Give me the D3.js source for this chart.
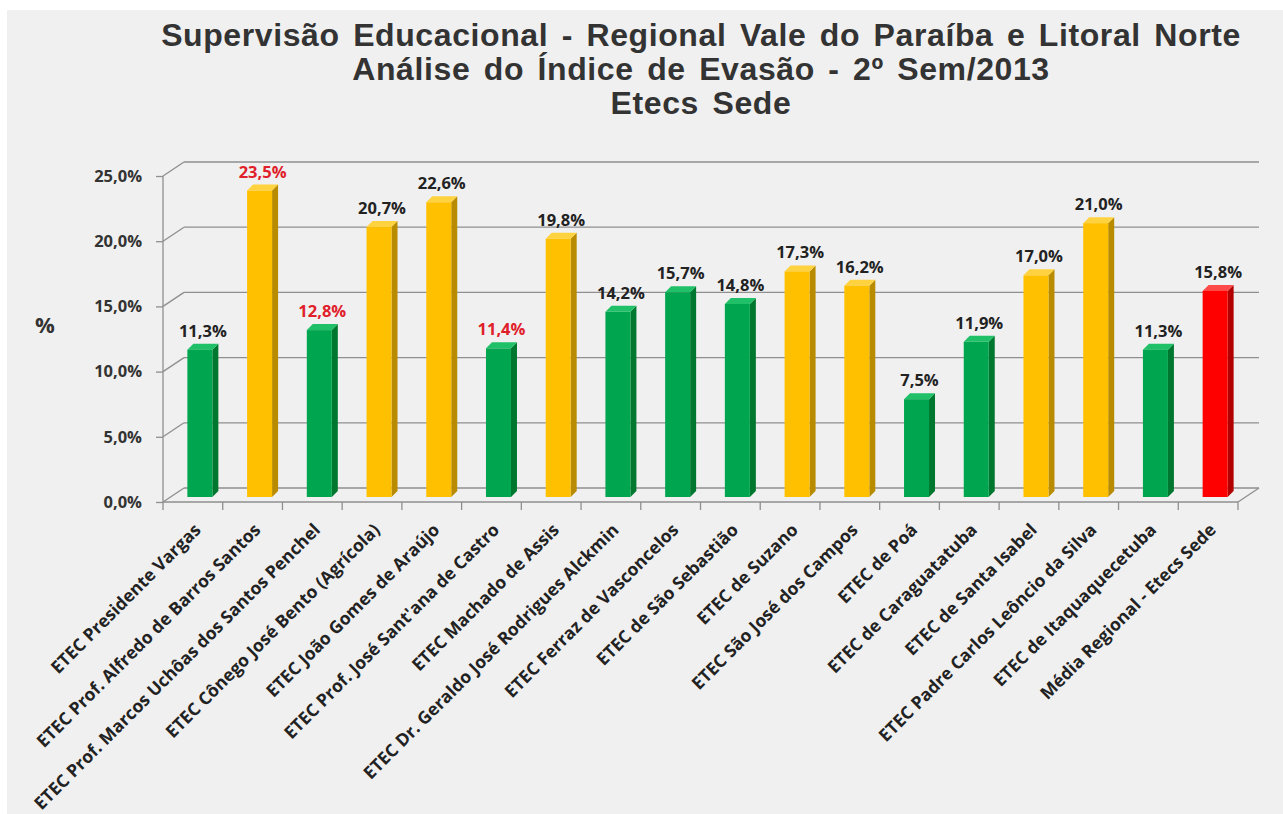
<!DOCTYPE html>
<html>
<head>
<meta charset="utf-8">
<script src="https://cdn.jsdelivr.net/npm/d3@7"></script>
<style>
  body { margin: 0; background: #fff; }
  svg { display: block; }
</style>
</head>
<body>
<div id="chart"></div>
<script>
// data
var schools = [
  "ETEC Presidente Vargas",
  "ETEC Prof. Alfredo de Barros Santos",
  "ETEC Prof. Marcos Uchôas dos Santos Penchel",
  "ETEC Cônego José Bento (Agrícola)",
  "ETEC João Gomes de Araújo",
  "ETEC Prof. José Sant'ana de Castro",
  "ETEC Machado de Assis",
  "ETEC Dr. Geraldo José Rodrigues Alckmin",
  "ETEC Ferraz de Vasconcelos",
  "ETEC de São Sebastião",
  "ETEC de Suzano",
  "ETEC São José dos Campos",
  "ETEC de Poá",
  "ETEC de Caraguatatuba",
  "ETEC de Santa Isabel",
  "ETEC Padre Carlos Leôncio da Silva",
  "ETEC de Itaquaquecetuba",
  "Média Regional - Etecs Sede"
];
var evasao = [11.3, 23.5, 12.8, 20.7, 22.6, 11.4, 19.8, 14.2, 15.7, 14.8, 17.3, 16.2, 7.5, 11.9, 17.0, 21.0, 11.3, 15.8];
// bar group as coloured in the original: g = green, y = yellow, r = average
var grupo = ["g","y","g","y","y","g","y","g","g","g","y","y","g","g","y","y","g","r"];
// labels printed in red in the original
var destaque = [false, true, true, false, false, true, false, false, false, false, false, false, false, false, false, false, false, false];
var yTicks = [0, 5, 10, 15, 20, 25];
var titulo = [
  "Supervisão Educacional - Regional Vale do Paraíba e Litoral Norte",
  "Análise do Índice de Evasão - 2º Sem/2013",
  "Etecs Sede"
];

var W = 1283, H = 814;
var plotL = 163, plotR = 1238, plotB = 502, plotT = 176;
var depthX = 21, depthY = -14;   // back wall offset
var midX = 10, midY = -5;        // bars sit half way in depth
var faceW = 25, sideX = 6, sideY = -6;
var axisColor = "#8f8f8f";

var colors = {
  g: { front: "#00a64f", side: "#00772f", top: "#1fc067" },
  y: { front: "#ffc000", side: "#b88b00", top: "#ffd23f" },
  r: { front: "#ff0000", side: "#b30000", top: "#ff4a4a" }
};

var svg = d3.select("#chart").append("svg")
  .attr("width", W).attr("height", H);

svg.append("rect").attr("width", W).attr("height", H).attr("fill", "#fff");
svg.append("rect").attr("x", 7).attr("y", 10).attr("width", W - 7).attr("height", H - 10)
  .attr("fill", "#f0f0f0");

// title
svg.append("g").selectAll("text")
  .data(titulo)
  .enter().append("text")
    .attr("x", 701)
    .attr("y", function(d, i) { return 46 + i * 34; })
    .attr("text-anchor", "middle")
    .style("font-family", "Liberation Sans, Arial, sans-serif")
    .style("font-weight", "bold")
    .style("font-size", "32px")
    .style("letter-spacing", "0.6px")
    .style("word-spacing", "4px")
    .attr("fill", "#333")
    .text(function(d) { return d; });

var x = d3.scaleBand()
  .domain(schools)
  .range([plotL, plotR]);

var y = d3.scaleLinear()
  .domain([0, 25])
  .range([plotB, plotT]);

var grid = svg.append("g")
  .attr("stroke", axisColor).attr("stroke-width", 1.3);
// back wall grid lines and left wall diagonals
yTicks.forEach(function(t) {
  grid.append("line")
    .attr("x1", plotL + depthX).attr("y1", y(t) + depthY)
    .attr("x2", plotR + depthX).attr("y2", y(t) + depthY);
  grid.append("line")
    .attr("x1", plotL).attr("y1", y(t))
    .attr("x2", plotL + depthX).attr("y2", y(t) + depthY);
});
// floor front edge and right edge
grid.append("line")
  .attr("x1", plotL).attr("y1", y(0)).attr("x2", plotR).attr("y2", y(0));
grid.append("line")
  .attr("x1", plotR).attr("y1", y(0)).attr("x2", plotR + depthX).attr("y2", y(0) + depthY);

// Y axis
var fmt = function(d) { return d3.format(".1f")(d).replace(".", ",") + "%"; };
var yAxis = svg.append("g")
  .attr("transform", "translate(" + plotL + ",0)")
  .call(d3.axisLeft(y).tickValues(yTicks).tickSize(7).tickPadding(14).tickFormat(fmt));
yAxis.select(".domain").attr("stroke", axisColor).attr("stroke-width", 1.3)
  .attr("d", "M0," + y(25) + "V" + y(0));
yAxis.selectAll(".tick line").attr("stroke", axisColor).attr("stroke-width", 1.3);
yAxis.selectAll("text")
  .style("font-family", "Open Sans, sans-serif")
  .style("font-weight", "bold")
  .style("font-size", "16.5px")
  .attr("fill", "#333");

svg.append("text")
  .attr("x", 45).attr("y", 333)
  .attr("text-anchor", "middle")
  .style("font-family", "Open Sans, sans-serif")
  .style("font-weight", "bold")
  .style("font-size", "22px")
  .attr("fill", "#333")
  .text("%");

// X axis
var xAxis = svg.append("g")
  .attr("transform", "translate(0," + plotB + ")")
  .call(d3.axisBottom(x).tickSize(0).tickPadding(0));
xAxis.select(".domain").remove();
// category separators
var xTickPos = [plotL].concat(schools.map(function(s) { return x(s) + x.bandwidth(); }));
xAxis.selectAll(".sep")
  .data(xTickPos)
  .enter().append("line")
    .attr("x1", function(d) { return d; }).attr("x2", function(d) { return d; })
    .attr("y1", 0).attr("y2", 8)
    .attr("stroke", axisColor).attr("stroke-width", 1.3);
xAxis.selectAll(".tick text")
  .attr("transform", "translate(9,29) rotate(-45)")
  .attr("text-anchor", "end")
  .attr("dy", "0")
  .attr("y", 0)
  .style("font-family", "Open Sans, sans-serif")
  .style("font-weight", "bold")
  .style("font-size", "17.5px")
  .attr("fill", "#222");

// 3D bars
var bars = svg.append("g").selectAll("g")
  .data(evasao)
  .enter().append("g");

function bx(i) { return x(schools[i]) + x.bandwidth() / 2 + midX - (faceW + sideX) / 2; }
function by(d) { return y(d) + midY; }
var base = y(0) + midY;

bars.append("path")
  .attr("fill", function(d, i) { return colors[grupo[i]].side; })
  .attr("d", function(d, i) {
    var x0 = bx(i) + faceW;
    return "M" + x0 + "," + by(d) + "L" + (x0 + sideX) + "," + (by(d) + sideY) +
      "L" + (x0 + sideX) + "," + (base + sideY) + "L" + x0 + "," + base + "Z";
  });
bars.append("path")
  .attr("fill", function(d, i) { return colors[grupo[i]].top; })
  .attr("d", function(d, i) {
    var x0 = bx(i);
    return "M" + x0 + "," + by(d) + "L" + (x0 + sideX) + "," + (by(d) + sideY) +
      "L" + (x0 + faceW + sideX) + "," + (by(d) + sideY) + "L" + (x0 + faceW) + "," + by(d) + "Z";
  });
bars.append("rect")
  .attr("x", function(d, i) { return bx(i); })
  .attr("y", function(d) { return by(d); })
  .attr("width", faceW)
  .attr("height", function(d) { return base - by(d); })
  .attr("fill", function(d, i) { return colors[grupo[i]].front; });

// value labels
svg.append("g").selectAll("text")
  .data(evasao)
  .enter().append("text")
    .attr("x", function(d, i) { return bx(i) + (faceW + sideX) / 2; })
    .attr("y", function(d) { return by(d) - 13; })
    .attr("text-anchor", "middle")
    .style("font-family", "Open Sans, sans-serif")
    .style("font-weight", "bold")
    .style("font-size", "16.5px")
    .attr("fill", function(d, i) { return destaque[i] ? "#e0202a" : "#222"; })
    .text(fmt);
</script>
</body>
</html>
